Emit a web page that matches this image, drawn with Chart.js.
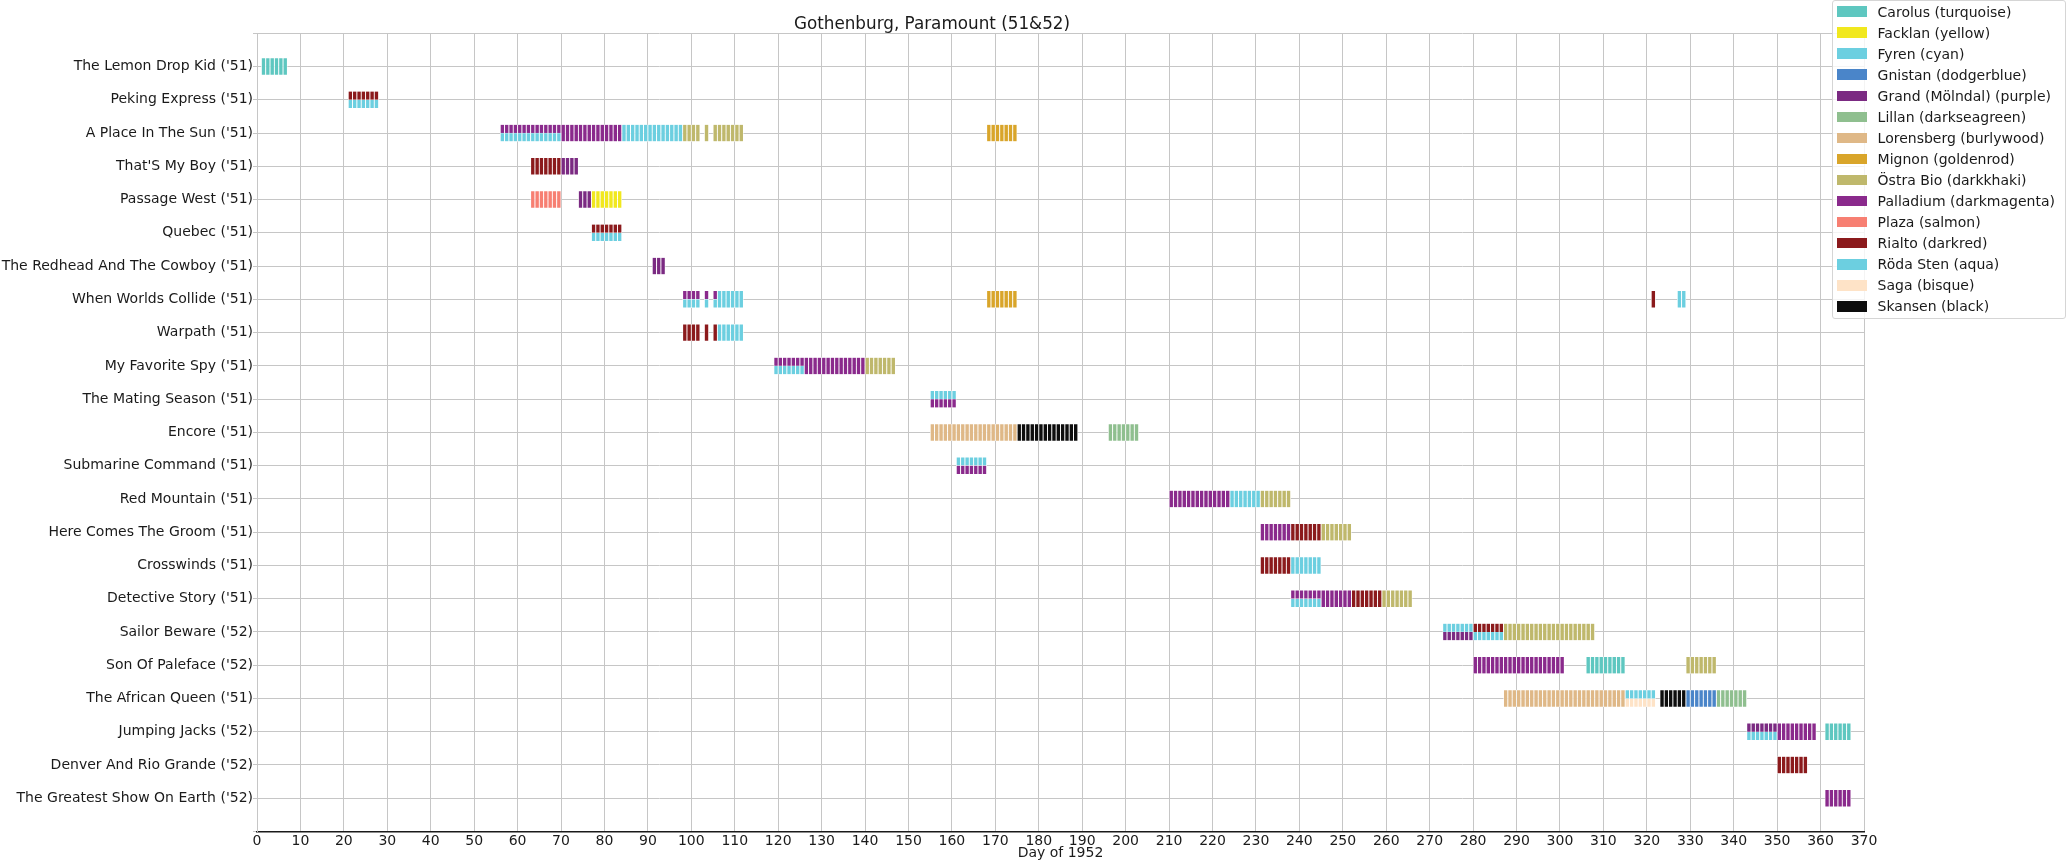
<!DOCTYPE html>
<html>
<head>
<meta charset="utf-8">
<title>Gothenburg, Paramount (51&amp;52)</title>
<script src="https://cdn.jsdelivr.net/npm/chart.js@4.4.1/dist/chart.umd.min.js"></script>
<style>
  html, body { margin: 0; padding: 0; background: #fff; overflow: hidden; }
  #wrap { position: relative; width: 2066px; height: 864px; }
  #legend {
    position: absolute; left: 1832px; top: 0; width: 232px; height: 317px;
    border: 1px solid #d5d5d5; border-radius: 3px; background: rgba(255,255,255,0.8);
    font: 14px "DejaVu Sans"; color: #1a1a1a;
  }
  .item { height: 21.07px; display: flex; align-items: center; white-space: nowrap; }
  .swatch { width: 29.6px; height: 10.5px; margin-left: 4px; margin-right: 11px; flex: none; }
</style>
</head>
<body>
<div id="wrap">
  <canvas id="chart" width="2066" height="864"></canvas>
  <div id="legend"></div>
</div>
<script>
var movies = [
  "The Lemon Drop Kid ('51)", "Peking Express ('51)", "A Place In The Sun ('51)",
  "That'S My Boy ('51)", "Passage West ('51)", "Quebec ('51)",
  "The Redhead And The Cowboy ('51)", "When Worlds Collide ('51)", "Warpath ('51)",
  "My Favorite Spy ('51)", "The Mating Season ('51)", "Encore ('51)",
  "Submarine Command ('51)", "Red Mountain ('51)", "Here Comes The Groom ('51)",
  "Crosswinds ('51)", "Detective Story ('51)", "Sailor Beware ('52)",
  "Son Of Paleface ('52)", "The African Queen ('51)", "Jumping Jacks ('52)",
  "Denver And Rio Grande ('52)", "The Greatest Show On Earth ('52)"
];

var cinemas = [
  "Carolus (turquoise)", "Facklan (yellow)", "Fyren (cyan)", "Gnistan (dodgerblue)",
  "Grand (Mölndal) (purple)", "Lillan (darkseagreen)", "Lorensberg (burlywood)",
  "Mignon (goldenrod)", "Östra Bio (darkkhaki)", "Palladium (darkmagenta)",
  "Plaza (salmon)", "Rialto (darkred)", "Röda Sten (aqua)", "Saga (bisque)", "Skansen (black)"
];

var colors = [
  "#5ec7c0", "#f1e81e", "#6ccfe0", "#4a85c9", "#7b2a82", "#8fbf8f", "#dfb887",
  "#d9a52a", "#bfb86c", "#8a2a8c", "#f77f72", "#8b1a1c", "#6ccfe0", "#fee3c7", "#0d0d0d"
];

// runs: [movie row, first day, day after the last, place]  place 0 = whole row, 1 = upper half, 2 = lower half
var carolus = [[0,1,7,0],[18,306,315,0],[20,361,367,0]];
var facklan = [[4,77,84,0]];
var fyren = [[1,21,28,2],[2,56,70,2],[2,84,98,0],[5,77,84,2],[7,98,102,2],[7,103,104,2],[7,105,106,2],
  [7,106,112,0],[8,106,112,0],[7,327,329,0]];
var gnistan = [[19,329,336,0]];
var grand = [[3,70,74,0],[4,74,77,0],[6,91,94,0],[17,273,280,2],[20,343,350,1]];
var lillan = [[11,196,203,0],[19,336,343,0]];
var lorensberg = [[11,155,175,0],[19,287,315,0]];
var mignon = [[2,168,175,0],[7,168,175,0]];
var ostraBio = [[2,98,102,0],[2,103,104,0],[2,105,112,0],[9,140,147,0],[13,231,238,0],[14,245,252,0],
  [16,259,266,0],[17,287,308,0],[18,329,336,0]];
var palladium = [[2,56,70,1],[2,70,84,0],[7,98,102,1],[7,103,104,1],[7,105,106,1],[9,119,126,1],[9,126,140,0],
  [10,155,161,2],[12,161,168,2],[13,210,224,0],[14,231,238,0],[16,238,245,1],[16,245,252,0],[18,280,301,0],
  [20,350,359,0],[22,361,367,0]];
var plaza = [[4,63,70,0]];
var rialto = [[1,21,28,1],[3,63,70,0],[5,77,84,1],[7,321,322,0],[8,98,102,0],[8,103,104,0],[8,105,106,0],
  [14,238,245,0],[15,231,238,0],[16,252,259,0],[17,280,287,1],[21,350,357,0]];
var rodaSten = [[9,119,126,2],[10,155,161,1],[12,161,168,1],[13,224,231,0],[15,238,245,0],[16,238,245,2],
  [17,273,280,1],[17,280,287,2],[19,315,322,1],[20,343,350,2]];
var saga = [[19,315,322,2]];
var skansen = [[11,175,189,0],[19,323,329,0]];

var runs = [carolus, facklan, fyren, gnistan, grand, lillan, lorensberg, mignon, ostraBio,
  palladium, plaza, rialto, rodaSten, saga, skansen];

var dayMax = 370;
var halfBar = 0.25;
var gridColor = "#c6c6c6";

// one bar per screening day
function dayBars(list) {
  var out = [];
  list.forEach(function (r) {
    var lo = r[3] === 2 ? r[0] : r[0] - halfBar;
    var hi = r[3] === 1 ? r[0] : r[0] + halfBar;
    for (var d = r[1]; d < r[2]; d++) {
      out.push({ x: d + 0.5, y: [lo, hi] });
    }
  });
  return out;
}

Chart.defaults.font.family = '"DejaVu Sans"';
Chart.defaults.font.size = 14;
Chart.defaults.color = "#1a1a1a";

new Chart(document.getElementById("chart"), {
  type: "bar",
  data: {
    datasets: cinemas.map(function (name, i) {
      return {
        label: name,
        data: dayBars(runs[i]),
        backgroundColor: colors[i],
        borderColor: "rgba(255,255,255,0.8)",
        borderWidth: { left: 0.8, right: 0.8, top: 0.4, bottom: 0.4 },
        borderSkipped: false,
        grouped: false,
        categoryPercentage: 1,
        barPercentage: 1
      };
    })
  },
  options: {
    responsive: false,
    animation: false,
    devicePixelRatio: 1,
    layout: { padding: { left: 0, right: 202, top: 0, bottom: 0 } },
    plugins: {
      legend: { display: false },
      tooltip: { enabled: false },
      title: {
        display: true,
        text: "Gothenburg, Paramount (51&52)",
        color: "#1a1a1a",
        font: { size: 16.8, weight: "normal", lineHeight: 1 },
        padding: { top: 16.5, bottom: 0 }
      }
    },
    scales: {
      x: {
        type: "linear",
        min: 0,
        max: dayMax,
        offset: false,
        z: 1,
        ticks: { stepSize: 10, autoSkip: false, maxRotation: 0, padding: 1 },
        grid: { color: gridColor, offset: false, drawTicks: false },
        border: { color: "#1a1a1a", width: 1.5 },
        title: { display: true, text: "Day of 1952", font: { size: 14 }, padding: { top: 0, bottom: 2.6 } },
        afterFit: function (s) { s.height = 32.5; }
      },
      y: {
        type: "linear",
        min: -1,
        max: movies.length,
        reverse: true,
        z: 1,
        ticks: {
          stepSize: 1,
          autoSkip: false,
          padding: 0,
          callback: function (v) { return movies[v] || ""; }
        },
        grid: { color: gridColor, tickLength: 4 },
        border: { color: gridColor },
        afterFit: function (s) { s.width = 257; }
      }
    }
  }
});

var legend = document.getElementById("legend");
cinemas.forEach(function (name, i) {
  var row = document.createElement("div");
  row.className = "item";
  var sw = document.createElement("span");
  sw.className = "swatch";
  sw.style.background = colors[i];
  row.appendChild(sw);
  row.appendChild(document.createTextNode(name));
  legend.appendChild(row);
});
</script>
</body>
</html>
